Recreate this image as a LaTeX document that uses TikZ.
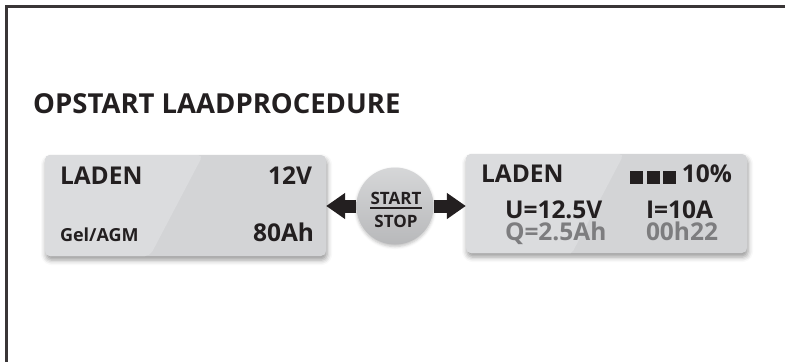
\documentclass[tikz,border=0pt]{standalone}
\usepackage{fontspec}
\setmainfont{Open Sans}
\usepackage{tikz}
\usetikzlibrary{positioning,arrows.meta,shadows.blur}
\definecolor{ink}{HTML}{231F20}
\definecolor{lcd}{HTML}{D3D4D6}
\definecolor{lcdlight}{HTML}{DBDCDE}
\definecolor{dim}{HTML}{7D7D7F}
\definecolor{knob}{HTML}{C8C9CB}

\begin{document}
\begin{tikzpicture}[x=1pt,y=-1pt,
  lcdbox/.style={rounded corners=5pt,minimum width=281pt,minimum height=101pt,fill=lcd,
                 blur shadow={shadow xshift=1pt,shadow yshift=-4pt,shadow blur radius=5pt,shadow opacity=40},
                 path picture={\fill[lcdlight] (path picture bounding box.north west) -- ++(158,0) -- ++(-53,101) -- (path picture bounding box.south west) -- cycle;}},
  txt/.style={inner sep=0pt,text=ink,font=\bfseries\fontsize{24.5}{24.5}\selectfont},
  small/.style={txt,font=\bfseries\fontsize{18}{18}\selectfont},
  faint/.style={txt,text=dim},
  bar/.style={fill=ink,inner sep=0pt,minimum width=13pt,minimum height=13pt},
  knobby/.style={circle,minimum size=77pt,top color=knob!75!white,bottom color=knob!92!black,
                 blur shadow={shadow xshift=0pt,shadow yshift=-2pt,shadow blur radius=3pt,shadow opacity=25}},
  fat/.style={line width=13pt,draw=ink,-{Triangle[length=19pt,width=25pt]}}]
\useasboundingbox (0,0) rectangle (785,362);
\draw[line width=3pt,ink!90] (785,6.5) -- (6.5,6.5) -- (6.5,362);

\node[txt,anchor=base west,font=\bfseries\fontsize{27.5}{27.5}\selectfont] (title) at (33,113) {OPSTART LAADPROCEDURE};

% left display
\node[lcdbox] (setup) at (185.5,205.5) {};
\node[txt,anchor=base west] (setupmode) at ([shift={(15,30)}]setup.north west) {LADEN};
\node[txt,anchor=base east] (setupvolt) at ([shift={(-14,30)}]setup.north east) {12V};
\node[small,anchor=base west] (setuptype) at ([shift={(15,-15)}]setup.south west) {Gel/AGM};
\node[txt,anchor=base east] (setupcap) at ([shift={(-12,-15)}]setup.south east) {80Ah};

% right display
\node[lcdbox,minimum height=99pt] (charge) at (606.5,203.5) {};
\node[txt,anchor=base west] (chargemode) at ([shift={(15,29)}]charge.north west) {LADEN};
\node[txt,anchor=base east] (pct) at ([shift={(-15,29)}]charge.north east) {10\%};
\foreach \i in {0,1,2}
  \node[bar] (bar\i) at (636.5+16.5*\i,177.5) {};
\node[txt,anchor=base west] (volt) at ([shift={(39,65)}]charge.north west) {U=12.5V};
\node[txt,anchor=base west] (amp) at ([shift={(180,65)}]charge.north west) {I=10A};
\node[faint,anchor=base west] (ah) at ([shift={(39,87)}]charge.north west) {Q=2.5Ah};
\node[faint,anchor=base west] (time) at ([shift={(180,87)}]charge.north west) {00h22};

% button
\node[knobby] (btn) at (395,206) {};
\node[txt,anchor=base,font=\bfseries\fontsize{17}{17}\selectfont] (start) at (396,204) {START};
\node[txt,anchor=base,font=\bfseries\fontsize{17}{17}\selectfont] (stop) at (396,227) {STOP};
\draw[line width=1.8pt,ink] ([yshift=-4pt]start.base west) -- ([yshift=-4pt]start.base east);

\draw[fat] (btn.west) -- (btn.west -| setup.east);
\draw[fat] (btn.east) -- (btn.east -| charge.west);
\end{tikzpicture}
\end{document}
